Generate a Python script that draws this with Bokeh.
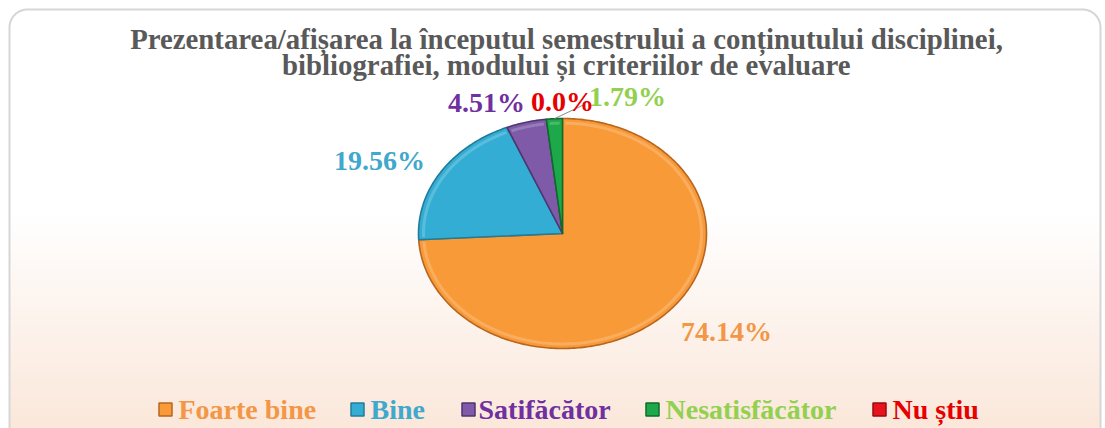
import numpy as np
from bokeh.plotting import figure
from bokeh.models import Range1d, ColumnDataSource
from bokeh.core.properties import value
from bokeh.embed import file_html
from bokeh.resources import INLINE

# ---- data ----
categories = ["Foarte bine", "Bine", "Satifăcător", "Nesatisfăcător", "Nu știu"]
percent = [74.14, 19.56, 4.51, 1.79, 0.0]
pct_labels = ["74.14%", "19.56%", "4.51%", "1.79%", "0.0%"]
title_lines = ["Prezentarea/afișarea la începutul semestrului a conținutului disciplinei,",
               "bibliografiei, modului și criteriilor de evaluare"]

# ---- styles ----
fill_colors = ["#F89A38", "#33ADD4", "#7E5AA8", "#1DA84A", "#E8141C"]
edge_colors = ["#B8651E", "#1F7C9A", "#4F3570", "#0E6B2C", "#9A0A10"]
text_colors = ["#F39645", "#3FA8CC", "#7030A0", "#92D050", "#E60000"]
FONT = "Liberation Serif"

OFF = 0
W, H = 1105, 428
CX, CY, RX, RY = 562, 233, 144, 115      # page px for pie centre / radii

def px(x):
    return (x - CX) / RX

def py(y):
    return (CY - y) / RY

p = figure(width=W, height=H, output_backend="svg", toolbar_location=None,
           x_axis_location=None, y_axis_location=None, min_border=0,
           x_range=Range1d(px(OFF), px(OFF + W)), y_range=Range1d(py(OFF + H), py(OFF)))
p.grid.visible = False
p.outline_line_color = None
p.background_fill_color = "white"
p.border_fill_color = "white"

# background gradient inside the card (white -> peach)
CL, CT, CR, CB = 9, 9, 1100, 460
rows = H
img = np.zeros((rows, 2), dtype=np.uint32)
view = img.view(dtype=np.uint8).reshape((rows, 2, 4))
top_c = np.array([255, 255, 255]); bot_c = np.array([251, 232, 219])
for r in range(rows):
    page_y = OFF + H - 1 - r
    t = np.clip((page_y - 215) / (425 - 215), 0, 1)
    c = top_c + (bot_c - top_c) * t
    view[r, :, 0] = int(c[0]); view[r, :, 1] = int(c[1]); view[r, :, 2] = int(c[2]); view[r, :, 3] = 255
p.image_rgba(image=[img], x=px(CL), y=py(OFF + H), dw=px(CR) - px(CL), dh=py(OFF) - py(OFF + H))

# rounded card border
rc = 18
a = np.linspace(np.pi, np.pi / 2, 20)
b = np.linspace(np.pi / 2, 0, 20)
bx = np.concatenate([[CL], CL + rc + rc * np.cos(a), CR - rc + rc * np.cos(b), [CR]])
by = np.concatenate([[CB], CT + rc - rc * np.sin(a), CT + rc - rc * np.sin(b), [CB]])
p.line([px(v) for v in bx], [py(v) for v in by], line_color="#D6D6D6", line_width=2)

# ---- pie slices (unit circle in data space -> ellipse via scales) ----
frac = np.array(percent) / sum(percent)
cum = np.concatenate([[0], np.cumsum(frac)])
xs, ys, fc, ec, hx, hy = [], [], [], [], [], []
for i in range(len(percent)):
    if frac[i] <= 0:
        continue
    a0 = np.pi / 2 - 2 * np.pi * cum[i]
    a1 = np.pi / 2 - 2 * np.pi * cum[i + 1]
    n = max(4, int(abs(a1 - a0) / (2 * np.pi) * 400))
    th = np.linspace(a0, a1, n)
    xs.append(np.concatenate([[0], np.cos(th)]).tolist())
    ys.append(np.concatenate([[0], np.sin(th)]).tolist())
    fc.append(fill_colors[i]); ec.append(edge_colors[i])
    th2 = np.linspace(a0 - 0.02 * np.sign(a0 - a1), a1 + 0.02 * np.sign(a0 - a1), n)
    hx.append((0.965 * np.cos(th2)).tolist()); hy.append((0.96 * np.sin(th2)).tolist())
p.patches(xs=xs, ys=ys, fill_color=fc, line_color=ec, line_width=1.6, line_join="round")
p.multi_line(xs=hx, ys=hy, line_color="white", line_alpha=0.2, line_width=3)

# leader line for the small slice
gi = 3
mid = np.pi / 2 - 2 * np.pi * (cum[gi] + cum[gi + 1]) / 2
p.line([np.cos(mid), px(584)], [np.sin(mid), py(104)], line_color="#8C8C8C", line_width=1)

# ---- percentage labels ----
lab_pos = [(726, 331), (379, 160), (486, 102), (627, 96), (562, 101)]
lsrc = ColumnDataSource(dict(x=[px(a) for a, b in lab_pos], y=[py(b) for a, b in lab_pos],
                             t=pct_labels, c=text_colors))
p.text(x="x", y="y", text="t", text_color="c", source=lsrc, text_font=value(FONT),
       text_font_style="bold", text_font_size="28px", text_align="center", text_baseline="middle")

# ---- title ----
p.text(x=[px(566), px(566)], y=[py(38), py(64)], text=title_lines, text_color="#595959",
       text_font=value(FONT), text_font_style="bold", text_font_size="28.8px",
       text_align="center", text_baseline="alphabetic")

# ---- legend ----
marker_x = [165, 357, 468, 652, 879]
text_x = [178, 370, 478, 665, 892]
LY = 409
p.scatter(x=[px(v) for v in marker_x], y=[py(LY)] * 5, marker="square", size=13,
          fill_color=fill_colors, line_color=edge_colors, line_width=1.5)
p.text(x=[px(v) for v in text_x], y=[py(LY)] * 5, text=categories, text_color=text_colors,
       text_font=value(FONT), text_font_style="bold", text_font_size="28px",
       text_align="left", text_baseline="middle")

open("out.html", "w").write(file_html(p, INLINE))
